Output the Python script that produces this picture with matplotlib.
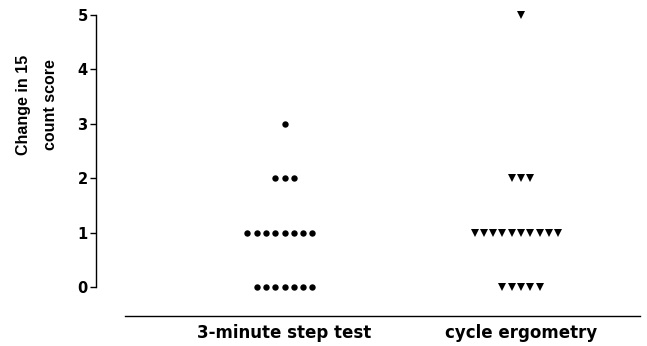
import numpy as np
import matplotlib
matplotlib.use("Agg")
import matplotlib.pyplot as plt

groups = ["3-minute step test", "cycle ergometry"]
# change in 15 count score, one value per subject
step_test = [0]*7 + [1]*8 + [2]*3 + [3]*1
cycle_ergo = [0]*5 + [1]*10 + [2]*3 + [5]*1
yticks = [0, 1, 2, 3, 4, 5]

spacing = 0.0393  # horizontal gap between stacked points (data units)


def swarm_x(values, centre):
    # lay equal values side by side, even rows shifted half a step left
    values = np.asarray(values)
    xs = np.zeros(len(values), dtype=float)
    for v in np.unique(values):
        idx = np.where(values == v)[0]
        n = len(idx)
        off = (np.arange(n) - (n - 1) / 2.0) * spacing
        if n % 2 == 0:
            off = off - spacing / 2.0
        xs[idx] = centre + off
    return xs


fig = plt.figure(figsize=(6.47, 3.46), dpi=100)
ax = fig.add_axes([0.1484, 0.0867, 0.8408, 0.8856])

ax.plot(swarm_x(step_test, 1), step_test, "o", color="black", ms=4.6,
        markeredgewidth=0, linestyle="none")
ax.plot(swarm_x(cycle_ergo, 2), cycle_ergo, "v", color="black", ms=5.2,
        markeredgewidth=0, linestyle="none")

ax.set_xlim(0.203, 2.503)
ax.set_ylim(-0.53, 5.1)

for s in ["top", "right"]:
    ax.spines[s].set_visible(False)
ax.spines["left"].set_bounds(0, 5)
ax.spines["bottom"].set_bounds(0.326, 2.503)
ax.spines["left"].set_linewidth(1.0)
ax.spines["bottom"].set_linewidth(1.0)

ax.set_yticks(yticks)
ax.set_yticklabels([str(t) for t in yticks], fontsize=10.5, fontweight="bold")
ax.tick_params(axis="y", length=4, width=1.0, pad=2)

ax.set_xticks([1, 2])
ax.set_xticklabels(groups, fontsize=12, fontweight="bold")
ax.tick_params(axis="x", length=0, pad=6)

fig.text(37/647, 1 - 105/346, "Change in 15\ncount score", rotation=90,
         ha="center", va="center", multialignment="center",
         fontsize=11.5, fontweight="bold",
         family=["Liberation Sans", "DejaVu Sans"], linespacing=2.0)

fig.savefig("out.png", dpi=100)
